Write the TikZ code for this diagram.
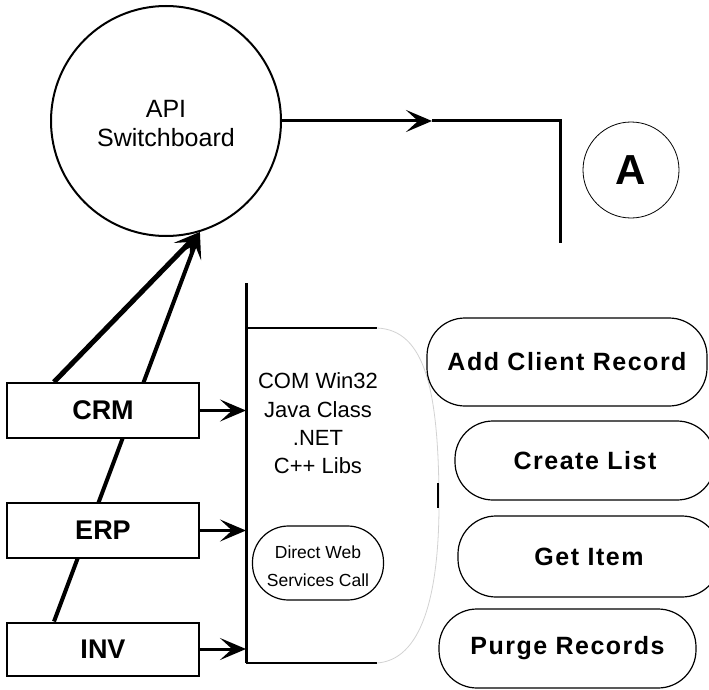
\documentclass[tikz,border=0pt]{standalone}
\usepackage{fontspec}
\setmainfont{Liberation Sans}
\usetikzlibrary{arrows.meta}
\pgfdeclarelayer{bg}
\pgfsetlayers{bg,main}
\begin{document}
\begin{tikzpicture}[x=1pt,y=-1pt,
  wire/.style={line width=3pt},
  headtip/.style={-{Stealth[length=26pt,width=22pt,inset=12pt]}},
  srcbox/.style={draw, fill=white, line width=2pt, minimum width=192pt,
    font=\bfseries\fontsize{27}{30}\selectfont},
  pill/.style={draw, line width=1.2pt, rounded corners=38pt,
    font=\bfseries\fontsize{25}{30}\selectfont\addfontfeatures{LetterSpace=6}},
]
\useasboundingbox (0,0) rectangle (709,690);

% central switchboard and the off-page connector
\node[circle, draw, line width=2pt, minimum size=230pt, align=center,
  text height=52pt, font=\fontsize{25}{29}\selectfont] (api) at (166,121) {API\\Switchboard};
\node[circle, draw, line width=0.8pt, minimum size=96pt,
  font=\bfseries\fontsize{42}{42}\selectfont] (a) at (631,170) {A};

% source systems
\node[srcbox, minimum height=55pt] (crm) at (103,410.5) {CRM};
\node[srcbox, minimum height=55pt] (erp) at (103,530.5) {ERP};
\node[srcbox, minimum height=53pt] (inv) at (103,649) {INV};

% switchboard output line
\coordinate (mid) at (432,121);
\coordinate (corner) at (560,121);
\coordinate (drop) at (560,243);
\draw[wire, headtip] (api.east) -- (mid);
\draw[wire, line join=miter] (mid) -- (corner) -- (drop);

% feeds into the switchboard (behind the boxes)
\coordinate (tip) at (api.-73);
\begin{pgfonlayer}{bg}
  \draw[line width=5pt, headtip] ([xshift=48pt]crm.north west) -- (tip);
  \draw[line width=4pt, headtip] ([xshift=48pt]inv.north west) -- (tip);
\end{pgfonlayer}

% interface layer
\coordinate (bartop) at (246,283);
\coordinate (barbot) at (246,663);
\draw[wire] (bartop) -- (barbot);
\draw[line width=1.5pt] (246,328) coordinate (laytl) -- (377,328) coordinate (laytr);
\draw[line width=1.5pt] (barbot) -- (377,663) coordinate (laybr);
\draw[gray!35, line width=0.8pt] (laytr) .. controls (425,330) and (438,390) .. (439,495)
  .. controls (440,600) and (420,660) .. (laybr);
\draw[line width=1.5pt] (438,483) -- (438,508);

\draw[wire, headtip] (crm.east) -- (crm.east -| bartop);
\draw[wire, headtip] (erp.east) -- (erp.east -| bartop);
\draw[wire, headtip] (inv.east) -- (inv.east -| bartop);

\node[align=center, font=\fontsize{22}{28.3}\selectfont] (libs) at (318,423.5)
  {COM Win32\\Java Class\\.NET\\C++ Libs};
\node[draw, line width=1.2pt, rounded corners=36pt, minimum width=131pt,
  minimum height=74pt, align=center, text height=47pt,
  font=\fontsize{17.5}{28}\selectfont] (dws)
  at (318,563) {Direct Web\\Services Call};

% operations
\node[pill, minimum width=280pt, minimum height=88pt] (add) at (567,362) {Add Client Record};
\node[pill, minimum width=260pt, minimum height=79pt] (create) at (585,460.5) {Create List};
\node[pill, minimum width=262pt, minimum height=81pt] (get) at (589,556.5) {Get Item};
\node[pill, minimum width=257pt, minimum height=79pt] (purge) at (567.5,648.5) {Purge Records};
\end{tikzpicture}
\end{document}
